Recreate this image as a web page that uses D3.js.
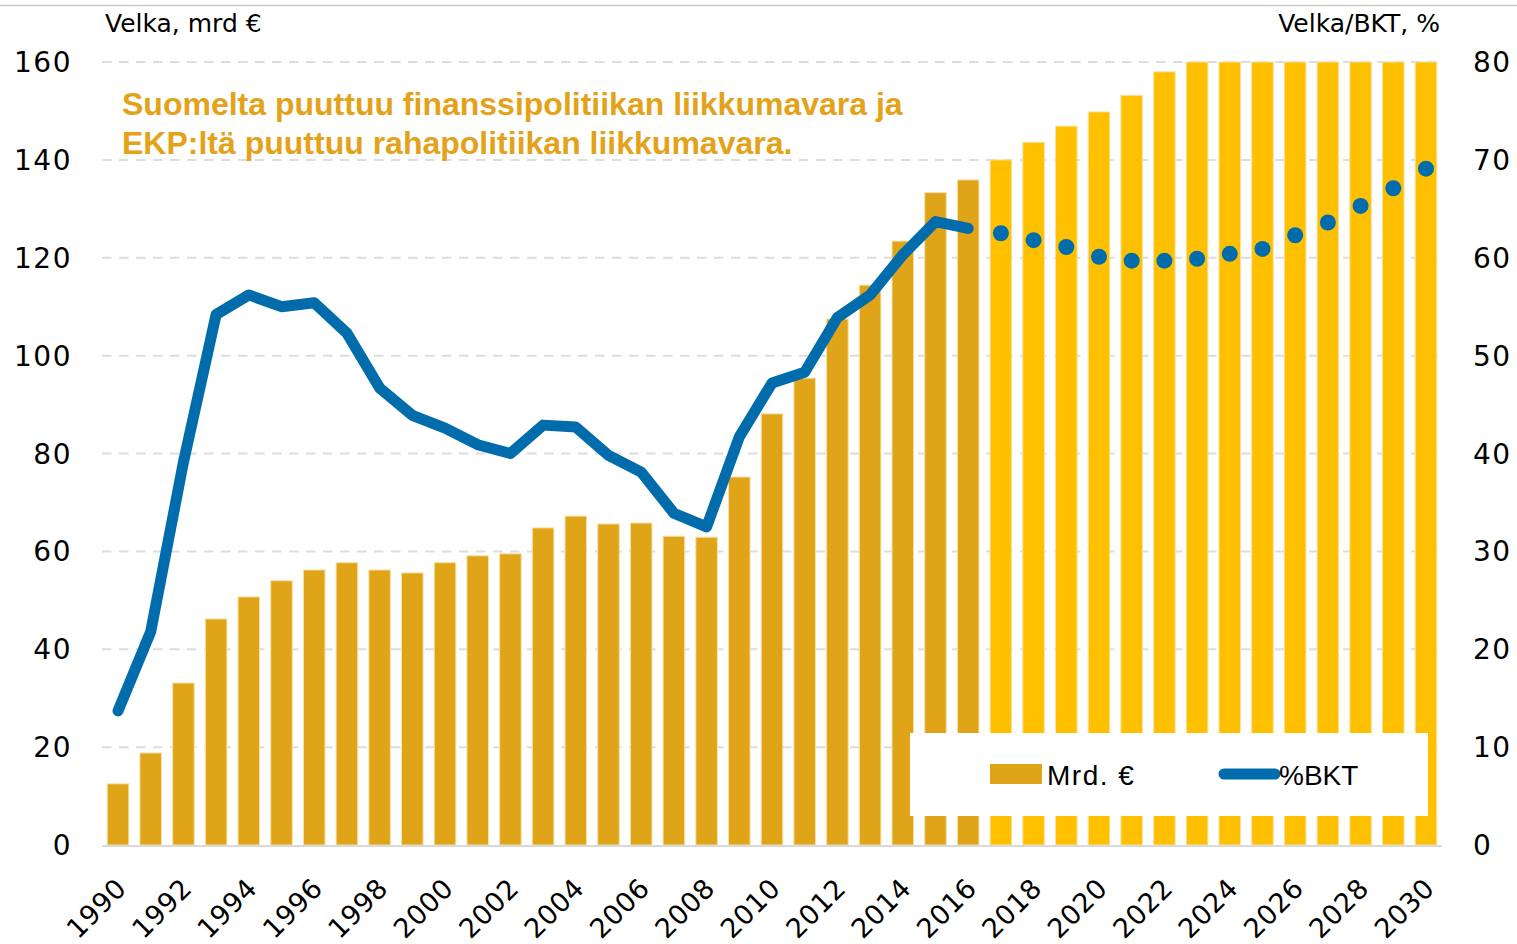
<!DOCTYPE html>
<meta charset="utf-8">
<style>
    body {
        margin: 0;
        background: #fff;
    }

    .tick-label {
        font: 28px "DejaVu Sans", sans-serif;
        letter-spacing: 1.5px;
        fill: #000;
    }

    .axis-title {
        font: 25px "DejaVu Sans", sans-serif;
        fill: #000;
    }

    .note {
        font: bold 32px "Liberation Sans", Arial, sans-serif;
        fill: #E3A21A;
    }

    .legend-label {
        font: 28px "Liberation Sans", sans-serif;
        fill: #000;
    }

    .grid {
        stroke: #DDDDDD;
        stroke-width: 2;
        stroke-dasharray: 9.5, 7.5;
    }
</style>

<body>
    <script src="https://d3js.org/d3.v7.min.js"></script>
    <script>
        // Vuodet 1990-2030
        var years = d3.range(1990, 2031);
        var lastActual = 2016;

        // Velka, mrd € (ennusteen yläpää leikkautuu akselin 160 kohdalla)
        var debtBn = [
            12.5, 18.8, 33.1, 46.2, 50.7, 54.0, 56.2, 57.7, 56.2, 55.6,
            57.7, 59.1, 59.5, 64.8, 67.2, 65.6, 65.8, 63.1, 62.9, 75.2,
            88.1, 95.4, 107.5, 114.4, 123.4, 133.3, 135.9,
            140.0, 143.6, 146.9, 149.8, 153.2, 158.0,
            160, 160, 160, 160, 160, 160, 160, 160
        ];

        // Velka/BKT, %
        var debtGdp = [
            13.7, 21.8, 39.1, 54.2, 56.2, 55.0, 55.4, 52.3, 46.7, 43.9,
            42.6, 40.9, 40.0, 42.9, 42.7, 39.8, 38.1, 33.9, 32.5, 41.7,
            47.2, 48.3, 53.9, 56.2, 60.3, 63.7, 63.0,
            62.5, 61.8, 61.1, 60.1, 59.7, 59.7, 59.9, 60.4, 60.9, 62.3,
            63.6, 65.3, 67.1, 69.1
        ];

        var leftTicks = [0, 20, 40, 60, 80, 100, 120, 140, 160];
        var rightTicks = [0, 10, 20, 30, 40, 50, 60, 70, 80];
        var xLabelYears = years.filter(function (y) { return y % 2 === 0; });

        var width = 1517,
            height = 944;
        var plot = { left: 102, right: 1442, top: 62, bottom: 845 };

        var svg = d3.select("body").append("svg")
            .attr("width", width)
            .attr("height", height);

        // ohut reunaviiva ylhäällä
        svg.append("line")
            .attr("x1", 0).attr("x2", width)
            .attr("y1", 5.5).attr("y2", 5.5)
            .attr("stroke", "#C8C8C8")
            .attr("stroke-width", 1.5);

        var x = d3.scaleBand()
            .domain(years)
            .range([plot.left, plot.right])
            .paddingInner(0.34)
            .paddingOuter(0.16);

        var yLeft = d3.scaleLinear().domain([0, 160]).range([plot.bottom, plot.top]);
        var yRight = d3.scaleLinear().domain([0, 80]).range([plot.bottom, plot.top]);

        var cx = function (yr) { return x(yr) + x.bandwidth() / 2; };

        // Gridlines
        svg.append("g")
            .selectAll("line")
            .data(leftTicks.filter(function (t) { return t > 0; }))
            .enter().append("line")
            .attr("class", "grid")
            .attr("x1", plot.left).attr("x2", plot.right - 2)
            .attr("y1", function (d) { return yLeft(d); })
            .attr("y2", function (d) { return yLeft(d); });

        // Bars
        var bars = years.map(function (yr, i) {
            return { year: yr, value: debtBn[i] };
        });
        svg.append("g")
            .selectAll("rect")
            .data(bars)
            .enter().append("rect")
            .attr("x", function (d) { return x(d.year); })
            .attr("width", x.bandwidth())
            .attr("y", function (d) { return yLeft(d.value); })
            .attr("height", function (d) { return yLeft(0) - yLeft(d.value); })
            .attr("fill", function (d) { return d.year <= lastActual ? "#E0A418" : "#FFC000"; })
            .attr("stroke", "#F6E2A8")
            .attr("stroke-width", 1);

        // baseline
        svg.append("line")
            .attr("x1", plot.left).attr("x2", plot.right)
            .attr("y1", yLeft(0) + 1).attr("y2", yLeft(0) + 1)
            .attr("stroke", "#D9D9D9")
            .attr("stroke-width", 2);

        // Line (actual) and dots (forecast)
        var pts = years.map(function (yr, i) {
            return { year: yr, value: debtGdp[i] };
        });
        var actual = pts.filter(function (d) { return d.year <= lastActual; });
        var forecast = pts.filter(function (d) { return d.year > lastActual; });

        svg.append("path")
            .datum(actual)
            .attr("fill", "none")
            .attr("stroke", "#006CAB")
            .attr("stroke-width", 11)
            .attr("stroke-linejoin", "round")
            .attr("stroke-linecap", "round")
            .attr("d", d3.line()
                .x(function (d) { return cx(d.year); })
                .y(function (d) { return yRight(d.value); }));

        svg.append("g")
            .selectAll("circle")
            .data(forecast)
            .enter().append("circle")
            .attr("cx", function (d) { return cx(d.year); })
            .attr("cy", function (d) { return yRight(d.value); })
            .attr("r", 8)
            .attr("fill", "#006CAB");

        // Left axis labels
        svg.append("g")
            .selectAll("text")
            .data(leftTicks)
            .enter().append("text")
            .attr("class", "tick-label")
            .attr("x", 72)
            .attr("y", function (d) { return yLeft(d); })
            .attr("dy", "0.36em")
            .attr("text-anchor", "end")
            .text(function (d) { return d; });

        // Right axis labels
        svg.append("g")
            .selectAll("text")
            .data(rightTicks)
            .enter().append("text")
            .attr("class", "tick-label")
            .attr("x", 1473)
            .attr("y", function (d) { return yRight(d); })
            .attr("dy", "0.36em")
            .attr("text-anchor", "start")
            .text(function (d) { return d; });

        // X labels, rotated
        svg.append("g")
            .selectAll("text")
            .data(xLabelYears)
            .enter().append("text")
            .attr("class", "tick-label")
            .style("font-size", "27px")
            .style("letter-spacing", "0.5px")
            .attr("text-anchor", "end")
            .attr("transform", function (d) {
                return "translate(" + (cx(d) + 10) + "," + 890 + ") rotate(-45)";
            })
            .text(function (d) { return d; });

        // Axis titles
        svg.append("text")
            .attr("class", "axis-title")
            .attr("x", 105).attr("y", 32)
            .text("Velka, mrd €");
        svg.append("text")
            .attr("class", "axis-title")
            .attr("x", 1440).attr("y", 32)
            .attr("text-anchor", "end")
            .text("Velka/BKT, %");

        // Note text
        var note = svg.append("text")
            .attr("class", "note")
            .attr("x", 122).attr("y", 115);
        note.append("tspan").attr("x", 122).attr("y", 115)
            .text("Suomelta puuttuu finanssipolitiikan liikkumavara ja");
        note.append("tspan").attr("x", 122).attr("y", 154)
            .text("EKP:ltä puuttuu rahapolitiikan liikkumavara.");

        // Legend
        var legend = svg.append("g");
        legend.append("rect")
            .attr("x", 910).attr("y", 733)
            .attr("width", 518).attr("height", 83)
            .attr("fill", "#fff");
        legend.append("rect")
            .attr("x", 990).attr("y", 764)
            .attr("width", 52).attr("height", 20)
            .attr("fill", "#E0A418");
        legend.append("text")
            .attr("class", "legend-label")
            .attr("x", 1047).attr("y", 785)
            .style("letter-spacing", "1.5px")
            .text("Mrd. €");
        legend.append("line")
            .attr("x1", 1224).attr("x2", 1275)
            .attr("y1", 774).attr("y2", 774)
            .attr("stroke", "#006CAB")
            .attr("stroke-width", 11)
            .attr("stroke-linecap", "round");
        legend.append("text")
            .attr("class", "legend-label")
            .attr("x", 1279).attr("y", 785)
            .text("%BKT");
    </script>
</body>
